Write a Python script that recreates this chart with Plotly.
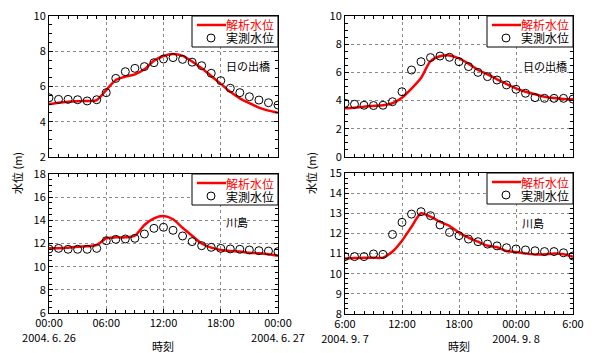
import plotly.graph_objects as go

# ---------------- data ----------------
hours = list(range(25))  # hourly positions within each 24h window

# June 26-27, 2004
jun_tick_vals = [0, 6, 12, 18, 24]
jun_tick_text = ["00:00<br>2004. 6. 26", "06:00", "12:00", "18:00", "00:00<br>2004. 6. 27"]
# Sept 7-8, 2004 (starting at 6:00)
sep_tick_vals = [0, 6, 12, 18, 24]
sep_tick_text = ["6:00<br>2004. 9. 7", "12:00", "18:00", "00:00<br>2004. 9. 8", "6:00"]

# 日の出橋 2004.6.26
hinode_jun_sim = [5.00, 5.08, 5.14, 5.17, 5.18, 5.23, 5.80, 6.37, 6.56, 6.69, 6.98, 7.46, 7.73,
                  7.84, 7.74, 7.42, 7.03, 6.60, 6.15, 5.70, 5.33, 5.05, 4.80, 4.63, 4.51]
hinode_jun_obs = [5.36, 5.27, 5.27, 5.25, 5.18, 5.25, 5.65, 6.46, 6.84, 7.03, 7.13, 7.35, 7.56,
                  7.64, 7.54, 7.38, 7.18, 6.75, 6.33, 5.90, 5.65, 5.42, 5.23, 5.08, 4.95]
# 川島 2004.6.26
kawa_jun_sim = [11.58, 11.60, 11.64, 11.73, 11.76, 11.87, 12.45, 12.53, 12.53, 12.67, 13.60, 14.17, 14.37,
                14.09, 13.36, 12.67, 12.00, 11.64, 11.44, 11.35, 11.30, 11.20, 11.15, 11.07, 10.95]
kawa_jun_obs = [11.53, 11.58, 11.50, 11.50, 11.50, 11.58, 12.24, 12.36, 12.39, 12.45, 12.82, 13.31, 13.40,
                13.14, 12.65, 12.16, 11.81, 11.67, 11.58, 11.53, 11.50, 11.44, 11.38, 11.35, 11.30]
# 日の出橋 2004.9.7
hinode_sep_sim = [3.45, 3.50, 3.57, 3.62, 3.67, 3.81, 4.20, 4.85, 5.60, 6.80, 7.15, 7.20, 7.00,
                  6.62, 6.17, 5.86, 5.51, 5.18, 4.87, 4.63, 4.45, 4.28, 4.18, 4.11, 4.09]
hinode_sep_obs = [3.81, 3.74, 3.67, 3.65, 3.67, 3.92, 4.63, 6.17, 6.76, 7.05, 7.16, 7.07, 6.76,
                  6.41, 6.00, 5.70, 5.46, 5.11, 4.80, 4.52, 4.21, 4.16, 4.16, 4.16, 4.11]
# 川島 2004.9.7
kawa_sep_sim = [10.76, 10.78, 10.79, 10.79, 10.80, 11.10, 11.64, 12.33, 13.00, 12.83, 12.58, 12.37, 12.04,
                11.79, 11.59, 11.39, 11.31, 11.13, 11.08, 11.01, 10.96, 10.96, 11.00, 10.97, 10.84]
kawa_sep_obs = [10.85, 10.85, 10.85, 10.98, 10.96, 11.95, 12.55, 12.96, 13.08, 12.88, 12.42, 12.05, 11.89,
                11.72, 11.59, 11.47, 11.38, 11.29, 11.23, 11.18, 11.14, 11.10, 11.10, 11.04, 10.88]

SIM_NAME = "解析水位"
OBS_NAME = "実測水位"
STATION_TEXT = ["日の出橋", "川島", "日の出橋", "川島"]
FONT = "Noto Sans CJK JP"
RED = "#ff0000"

# the page body has an 8px margin, so the figure is drawn 8px in from the window corner
OFF = 8
W, H = 596 - OFF, 353 - OFF
def px_x(p):
    return (p - OFF) / W
def px_y(p):
    return 1 - (p - OFF) / H

panels = [
    # (xaxis, yaxis, x px range, y px range, sim, obs, yrange, dtick, minor, ticks, station label pos)
    ("x", "y", (49, 278), (16, 157), hinode_jun_sim, hinode_jun_obs, [2, 10], 2, 0.5, None, (248, 66)),
    ("x2", "y2", (49, 278), (174, 313), kawa_jun_sim, kawa_jun_obs, [6, 18], 2, 0.5, (jun_tick_vals, jun_tick_text), (237, 222)),
    ("x3", "y3", (345, 573), (16, 157), hinode_sep_sim, hinode_sep_obs, [0, 10], 2, 0.5, None, (545, 66)),
    ("x4", "y4", (345, 573), (173, 314), kawa_sep_sim, kawa_sep_obs, [8, 15], 1, 0.25, (sep_tick_vals, sep_tick_text), (533, 223)),
]

fig = go.Figure()
layout = {}
shapes = []
annotations = []
for i, (xa, ya, (x0, x1), (y0, y1), sim, obs, yr, dt, mn, tk, spos) in enumerate(panels):
    fig.add_trace(go.Scatter(x=hours, y=sim, mode="lines", name=SIM_NAME, xaxis=xa, yaxis=ya,
                             showlegend=False,
                             line=dict(color=RED, width=2.5, shape="spline", smoothing=0.7)))
    fig.add_trace(go.Scatter(x=hours, y=obs, mode="markers", name=OBS_NAME, xaxis=xa, yaxis=ya,
                             showlegend=False,
                             marker=dict(symbol="circle-open", size=8, color="black",
                                         line=dict(width=1, color="black"))))
    xkey = "xaxis" + xa[1:]
    ykey = "yaxis" + ya[1:]
    common = dict(showline=True, linecolor="black", linewidth=1, mirror="ticks", ticks="inside",
                  ticklen=4, tickcolor="black", showgrid=True, gridcolor="#8a8a8a", griddash="dot",
                  gridwidth=1, zeroline=False, automargin=False, ticklabeloverflow="allow",
                  tickfont=dict(family=FONT, size=11, color="black"))
    xd = dict(domain=[px_x(x0), px_x(x1)], anchor=ya, range=[0, 24], tickvals=jun_tick_vals,
              minor=dict(dtick=1, ticks="inside", ticklen=3, tickcolor="black", showgrid=False),
              **common)
    if tk is None:
        xd["showticklabels"] = False
    else:
        xd["tickvals"] = tk[0]
        xd["ticktext"] = tk[1]
    yd = dict(domain=[px_y(y1), px_y(y0)], anchor=xa, range=yr, dtick=dt, tick0=0,
              minor=dict(dtick=mn, ticks="inside", ticklen=3, tickcolor="black", showgrid=False),
              **common)
    layout[xkey] = xd
    layout[ykey] = yd

    # legend box in the upper-right corner of each panel
    bh = 31
    shapes.append(dict(type="rect", xref="paper", yref="paper",
                       x0=px_x(x1 - 86), x1=px_x(x1), y0=px_y(y0 + bh), y1=px_y(y0),
                       line=dict(color="black", width=1), fillcolor="white", layer="above"))
    shapes.append(dict(type="line", xref="paper", yref="paper",
                       x0=px_x(x1 - 81), x1=px_x(x1 - 52), y0=px_y(y0 + 9), y1=px_y(y0 + 9),
                       line=dict(color=RED, width=2.5), layer="above"))
    shapes.append(dict(type="circle", xref="paper", yref="paper", xsizemode="pixel", ysizemode="pixel",
                       xanchor=px_x(x1 - 67), yanchor=px_y(y0 + 22), x0=-4, x1=4, y0=-4, y1=4,
                       line=dict(color="black", width=1), layer="above"))
    annotations.append(dict(text=SIM_NAME, x=px_x(x1 - 2), y=px_y(y0 + 9), xanchor="right",
                            font=dict(family=FONT, size=12, color=RED)))
    annotations.append(dict(text=OBS_NAME, x=px_x(x1 - 2), y=px_y(y0 + 22), xanchor="right",
                            font=dict(family=FONT, size=12, color="black")))
    annotations.append(dict(text=STATION_TEXT[i], x=px_x(spos[0]), y=px_y(spos[1])))

annotations += [
    dict(text="時刻", x=px_x(163), y=px_y(346)),
    dict(text="時刻", x=px_x(459), y=px_y(346)),
    dict(text="水位 (m)", x=px_x(17), y=px_y(173), textangle=-90),
    dict(text="水位 (m)", x=px_x(311), y=px_y(173), textangle=-90),
]
for a in annotations:
    a.setdefault("xanchor", "center")
    a.setdefault("font", dict(family=FONT, size=11, color="black"))
    a.update(xref="paper", yref="paper", showarrow=False, yanchor="middle")

fig.update_layout(**layout)
fig.update_layout(
    width=W, height=H,
    margin=dict(l=0, r=0, t=0, b=0, autoexpand=False),
    paper_bgcolor="white", plot_bgcolor="white",
    font=dict(family=FONT, size=11, color="black"),
    showlegend=False,
    shapes=shapes,
    annotations=annotations,
)

fig.write_html("out.html")
